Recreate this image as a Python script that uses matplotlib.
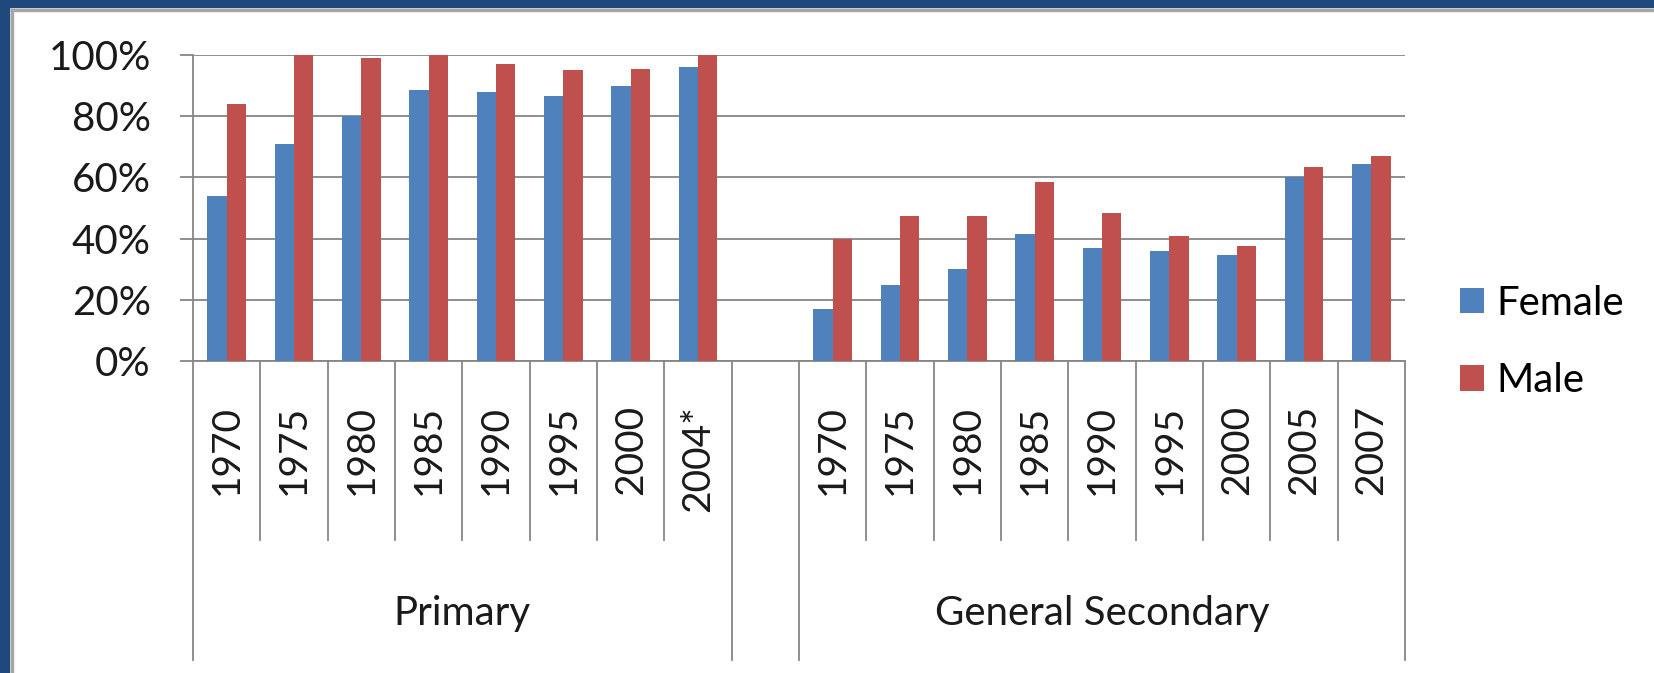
import matplotlib.pyplot as plt
from matplotlib.patches import Rectangle
from matplotlib.ticker import PercentFormatter
import matplotlib.transforms as mtransforms
import numpy as np

# Enrolment ratios by level and year (percent)
years_primary = ['1970', '1975', '1980', '1985', '1990', '1995', '2000', '2004*']
years_secondary = ['1970', '1975', '1980', '1985', '1990', '1995', '2000', '2005', '2007']
female_primary = [54, 71, 80, 88.5, 88, 86.5, 90, 96]
male_primary = [84, 100, 99, 100, 97, 95, 95.5, 100]
female_secondary = [17, 25, 30, 41.5, 37, 36, 34.5, 60, 64.5]
male_secondary = [40, 47.5, 47.5, 58.5, 48.5, 41, 37.5, 63.5, 67]
groups = ['Primary', '', 'General Secondary']

BLUE = '#4f81bd'
RED = '#c0504d'
GRID = '#868686'
FONT = 'Lato'

W, H, DPI = 1654, 673, 100
fig = plt.figure(figsize=(W / DPI, H / DPI), dpi=DPI)
plt.rcParams['font.family'] = [FONT, 'DejaVu Sans']

# plot area in pixels
left, right, top, bottom = 193, 1405, 55, 361
ax = fig.add_axes([left / W, 1 - bottom / H, (right - left) / W, (bottom - top) / H])

# one slot per year, with an empty slot between the two levels
n_p, n_s = len(years_primary), len(years_secondary)
x_p = np.arange(n_p) + 0.5
x_s = np.arange(n_s) + n_p + 1 + 0.5
n_slots = n_p + 1 + n_s

bw = 2 / 7  # Excel gap width 150%
ax.bar(x_p - bw / 2, female_primary, bw, color=BLUE, label='Female', zorder=3)
ax.bar(x_p + bw / 2, male_primary, bw, color=RED, label='Male', zorder=3)
ax.bar(x_s - bw / 2, female_secondary, bw, color=BLUE, zorder=3)
ax.bar(x_s + bw / 2, male_secondary, bw, color=RED, zorder=3)

ax.set_xlim(0, n_slots)
ax.set_ylim(0, 100)
ax.set_yticks([0, 20, 40, 60, 80, 100])
ax.yaxis.set_major_formatter(PercentFormatter(100, decimals=0))
ax.grid(axis='y', color=GRID, linewidth=1.3)
ax.set_axisbelow(True)
ax.tick_params(axis='y', length=9.5, width=1.3, color=GRID, pad=21, labelsize=29)
ax.set_xticks([])
for s in ['top', 'right']:
    ax.spines[s].set_visible(False)
for s in ['left', 'bottom']:
    ax.spines[s].set_color(GRID)
    ax.spines[s].set_linewidth(1.3)
for lab in ax.get_yticklabels():
    lab.set_color('#1a1a1a')

# multi-level category axis: separators and labels
trans = mtransforms.blended_transform_factory(ax.transData, ax.transAxes)
px = 1 / (bottom - top)
short_end = -(540 - bottom) * px
long_end = -(660 - bottom) * px
long_bounds = [0, n_p, n_p + 1, n_slots]
for b in range(n_slots + 1):
    y_end = long_end if b in long_bounds else short_end
    ax.plot([b, b], [0, y_end], transform=trans, color=GRID, linewidth=1.3, clip_on=False)

label_top = -(405 - bottom) * px
for x, lab in zip(list(x_p) + list(x_s), years_primary + years_secondary):
    ax.text(x, label_top, lab, transform=trans, rotation=90, ha='center', va='top',
            fontsize=28, color='#1a1a1a')

group_y = -(613 - bottom) * px
ax.text(n_p / 2, group_y, groups[0], transform=trans, ha='center', va='center',
        fontsize=29, color='#1a1a1a')
ax.text(n_p + 1 + n_s / 2, group_y, groups[2], transform=trans, ha='center', va='center',
        fontsize=29, color='#1a1a1a')

# legend
fig.legend(loc='center left', bbox_to_anchor=(1460 / W, 1 - 342 / H), frameon=False,
           fontsize=29, handlelength=0.6, handleheight=0.6, handletextpad=0.3,
           labelspacing=1.0, borderpad=0, borderaxespad=0)

# dark blue frame on top and left, with a thin grey chart border inside
fig.patches.append(Rectangle((0, 1 - 7 / H), 1, 7 / H, transform=fig.transFigure,
                             color='#1f497d', zorder=10))
fig.patches.append(Rectangle((0, 0), 9 / W, 1, transform=fig.transFigure,
                             color='#1f497d', zorder=10))
fig.patches.append(Rectangle((11 / W, 1 - 11 / H), 1, 2 / H, transform=fig.transFigure,
                             color='#a6a6a6', zorder=9))
fig.patches.append(Rectangle((11 / W, 0), 2 / W, 1 - 9 / H, transform=fig.transFigure,
                             color='#a6a6a6', zorder=9))

plt.savefig('out.png', dpi=DPI)
